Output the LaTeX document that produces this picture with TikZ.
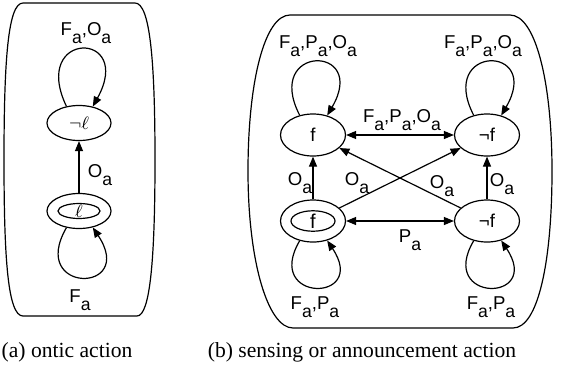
\documentclass[tikz,border=0pt]{standalone}
\usepackage{fontspec}
\setmainfont{Liberation Sans}
\newfontfamily\capfont{Liberation Serif}
\usetikzlibrary{arrows.meta,shapes.geometric}
\newcommand\sbs[1]{\raisebox{-4.3pt}{\fontsize{8.8}{9}\selectfont #1}}
\begin{document}
\begin{tikzpicture}[x=0.5pt,y=-0.5pt,line width=0.6pt,
  >={Triangle[length=5pt,width=4pt]},
  lst/.style={ellipse,draw,inner sep=0pt,minimum width=32pt,minimum height=17.5pt,font=\fontsize{9.3}{10}\selectfont},
  rst/.style={ellipse,draw,inner sep=0pt,minimum width=32.5pt,minimum height=21pt,font=\fontsize{9.3}{10}\selectfont},
  inl/.style={ellipse,draw,inner sep=0pt,minimum width=21pt,minimum height=7.5pt},
  inr/.style={ellipse,draw,inner sep=0pt,minimum width=22pt,minimum height=8.5pt},
  lab/.style={font=\fontsize{9.3}{10}\selectfont,inner sep=0pt,anchor=base},
  captext/.style={font=\capfont\fontsize{10.8}{12}\selectfont,inner sep=0pt}]
\useasboundingbox (0,0) rectangle (567,370);
% panel boxes
\draw (23,3) -- (135,3) .. controls (150,3) and (155,60) .. (155,160)
  .. controls (155,260) and (150,316) .. (137,316) -- (23,316)
  .. controls (8,316) and (4,260) .. (4,160)
  .. controls (4,60) and (8,3) .. (23,3) -- cycle;
\draw (290,15) -- (510,15) .. controls (535,15) and (552,80) .. (552,171)
  .. controls (552,262) and (538,328) .. (513,328) -- (293,328)
  .. controls (268,328) and (248,262) .. (248,171)
  .. controls (248,80) and (265,15) .. (290,15) -- cycle;
% left panel
\node[lst] (nl) at (79,123) {$\neg\ell$};
\node[lst] (l) at (79,211) {};
\node[inl] (li) at (79,211) {};
\node[font=\fontsize{9.3}{10}\selectfont,inner sep=0pt] (lt) at (79,211) {$\ell$};
\draw[->] (nl.127) .. controls (30,30) and (135,30) .. (nl.50);
\draw[->] (l.-127) .. controls (28,294) and (137,294) .. (l.-50);
\draw[->] (l) -- (nl);
\node[lab] (la1) at (86,35) {F\sbs{a},O\sbs{a}};
\node[lab] (la2) at (100,177) {O\sbs{a}};
\node[lab] (la3) at (80,302) {F\sbs{a}};
% right panel
\node[rst] (f1) at (313,135) {f};
\node[rst] (nf1) at (487,135) {¬f};
\node[rst] (f2) at (313,221) {};
\node[inr] (f2i) at (313,221) {f};
\node[rst] (nf2) at (487,221) {¬f};
\draw[->] (f1.124) .. controls (263,44) and (369,44) .. (f1.54);
\draw[->] (nf1.124) .. controls (437,44) and (543,44) .. (nf1.54);
\draw[->] (f2.-124) .. controls (263,303) and (369,303) .. (f2.-54);
\draw[->] (nf2.-124) .. controls (437,303) and (543,303) .. (nf2.-54);
\draw[<->] (f1) -- (nf1);
\draw[<->] (f2) -- (nf2);
\draw[->] (f2) -- (f1);
\draw[->] (nf2) -- (nf1);
\draw[->] (f2) -- (nf1);
\draw[->] (nf2) -- (f1);
\node[lab] (rb1) at (318,48) {F\sbs{a},P\sbs{a},O\sbs{a}};
\node[lab] (rb2) at (483,48) {F\sbs{a},P\sbs{a},O\sbs{a}};
\node[lab] (rb3) at (402,122) {F\sbs{a},P\sbs{a},O\sbs{a}};
\node[lab] (rb4) at (300,185) {O\sbs{a}};
\node[lab] (rb5) at (357,185) {O\sbs{a}};
\node[lab] (rb6) at (442,188) {O\sbs{a}};
\node[lab] (rb7) at (502,186) {O\sbs{a}};
\node[lab] (rb8) at (410,242) {P\sbs{a}};
\node[lab] (rb9) at (315,309) {F\sbs{a},P\sbs{a}};
\node[lab] (rb10) at (491,309) {F\sbs{a},P\sbs{a}};
% captions
\node[captext] (capa) at (67,352) {(a) ontic action};
\node[captext] (capb) at (362,352) {(b) sensing or announcement action};
\end{tikzpicture}
\end{document}
